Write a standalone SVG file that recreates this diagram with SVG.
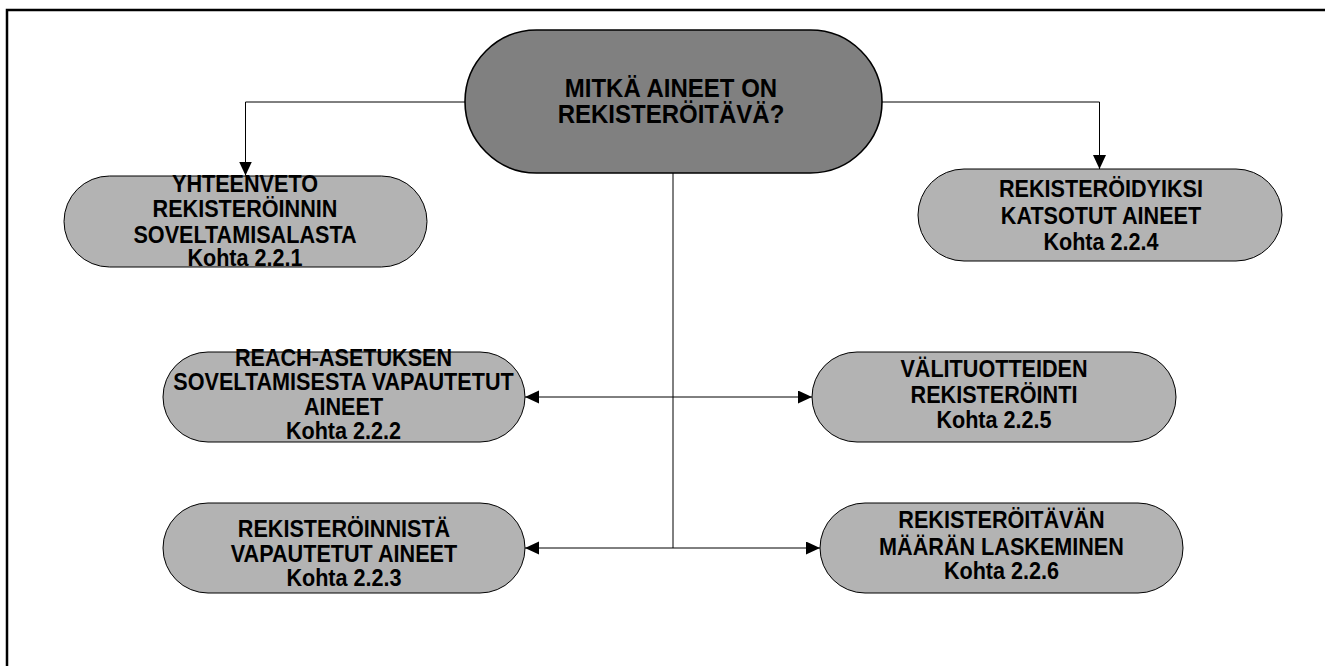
<svg xmlns="http://www.w3.org/2000/svg" width="1325" height="666" viewBox="0 0 1325 666">
  <defs>
    <marker id="arrow" markerUnits="userSpaceOnUse" markerWidth="15" markerHeight="14" refX="14" refY="6.5" orient="auto">
      <path d="M0,0 L14,6.5 L0,13 Z" fill="#000"/>
    </marker>
    <style>
      .frame { fill: none; stroke: #000; stroke-width: 2.5; }
      .main { fill: #808080; stroke: #000; stroke-width: 1.6; }
      .node { fill: #b3b3b3; stroke: #000; stroke-width: 1; }
      .link { fill: none; stroke: #000; stroke-width: 1; }
      .arrowed { marker-end: url(#arrow); }
      text { font-family: "Liberation Sans", Arial, sans-serif; font-weight: bold; fill: #000; text-anchor: middle; }
      .t-main { font-size: 25px; }
      .t-node { font-size: 24px; }
    </style>
  </defs>

  <!-- page frame (top and left edges) -->
  <path class="frame" d="M7,666 V10 H1325"/>

  <!-- connectors -->
  <g id="connectors">
    <path class="link arrowed" d="M465,102 H245.5 V175.5"/>
    <path class="link arrowed" d="M882,102 H1099.5 V169"/>
    <path class="link" d="M673,173 V548"/>
    <path class="link arrowed" d="M673,397 H525"/>
    <path class="link arrowed" d="M673,397 H812"/>
    <path class="link arrowed" d="M673,548 H525"/>
    <path class="link arrowed" d="M673,548 H820"/>
  </g>

  <!-- central question; labels use a slightly condensed bold face (horizontal scale) -->
  <g id="node-main">
    <rect class="main" x="465" y="30" width="417" height="143" rx="71.5" ry="71.5"/>
    <text class="t-main" transform="matrix(0.96 0 0 1 671 97)">MITKÄ AINEET ON</text>
    <text class="t-main" transform="matrix(0.96 0 0 1 671 123)">REKISTERÖITÄVÄ?</text>
  </g>

  <g id="node-221">
    <rect class="node" x="64" y="176" width="363" height="91" rx="45.5" ry="45.5"/>
    <text class="t-node" transform="matrix(0.9 0 0 1 245 192)">YHTEENVETO</text>
    <text class="t-node" transform="matrix(0.9 0 0 1 245 217)">REKISTERÖINNIN</text>
    <text class="t-node" transform="matrix(0.9 0 0 1 245 243)">SOVELTAMISALASTA</text>
    <text class="t-node" transform="matrix(0.9 0 0 1 245 266)">Kohta 2.2.1</text>
  </g>

  <g id="node-224">
    <rect class="node" x="918" y="169" width="364" height="92" rx="46" ry="46"/>
    <text class="t-node" transform="matrix(0.9 0 0 1 1101 197)">REKISTERÖIDYIKSI</text>
    <text class="t-node" transform="matrix(0.9 0 0 1 1101 224)">KATSOTUT AINEET</text>
    <text class="t-node" transform="matrix(0.9 0 0 1 1101 250)">Kohta 2.2.4</text>
  </g>

  <g id="node-222">
    <rect class="node" x="163" y="352" width="362" height="90" rx="45" ry="45"/>
    <text class="t-node" transform="matrix(0.9 0 0 1 343.5 366)">REACH-ASETUKSEN</text>
    <text class="t-node" transform="matrix(0.9 0 0 1 343.5 390)">SOVELTAMISESTA VAPAUTETUT</text>
    <text class="t-node" transform="matrix(0.9 0 0 1 343.5 415)">AINEET</text>
    <text class="t-node" transform="matrix(0.9 0 0 1 343.5 439)">Kohta 2.2.2</text>
  </g>

  <g id="node-225">
    <rect class="node" x="812" y="352" width="364" height="90" rx="45" ry="45"/>
    <text class="t-node" transform="matrix(0.9 0 0 1 994 377)">VÄLITUOTTEIDEN</text>
    <text class="t-node" transform="matrix(0.9 0 0 1 994 403)">REKISTERÖINTI</text>
    <text class="t-node" transform="matrix(0.9 0 0 1 994 428)">Kohta 2.2.5</text>
  </g>

  <g id="node-223">
    <rect class="node" x="163" y="503" width="362" height="90" rx="45" ry="45"/>
    <text class="t-node" transform="matrix(0.9 0 0 1 344 537)">REKISTERÖINNISTÄ</text>
    <text class="t-node" transform="matrix(0.9 0 0 1 344 562)">VAPAUTETUT AINEET</text>
    <text class="t-node" transform="matrix(0.9 0 0 1 344 586)">Kohta 2.2.3</text>
  </g>

  <g id="node-226">
    <rect class="node" x="820" y="503" width="363" height="90" rx="45" ry="45"/>
    <text class="t-node" transform="matrix(0.9 0 0 1 1001.5 528)">REKISTERÖITÄVÄN</text>
    <text class="t-node" transform="matrix(0.9 0 0 1 1001.5 555)">MÄÄRÄN LASKEMINEN</text>
    <text class="t-node" transform="matrix(0.9 0 0 1 1001.5 579)">Kohta 2.2.6</text>
  </g>
</svg>
